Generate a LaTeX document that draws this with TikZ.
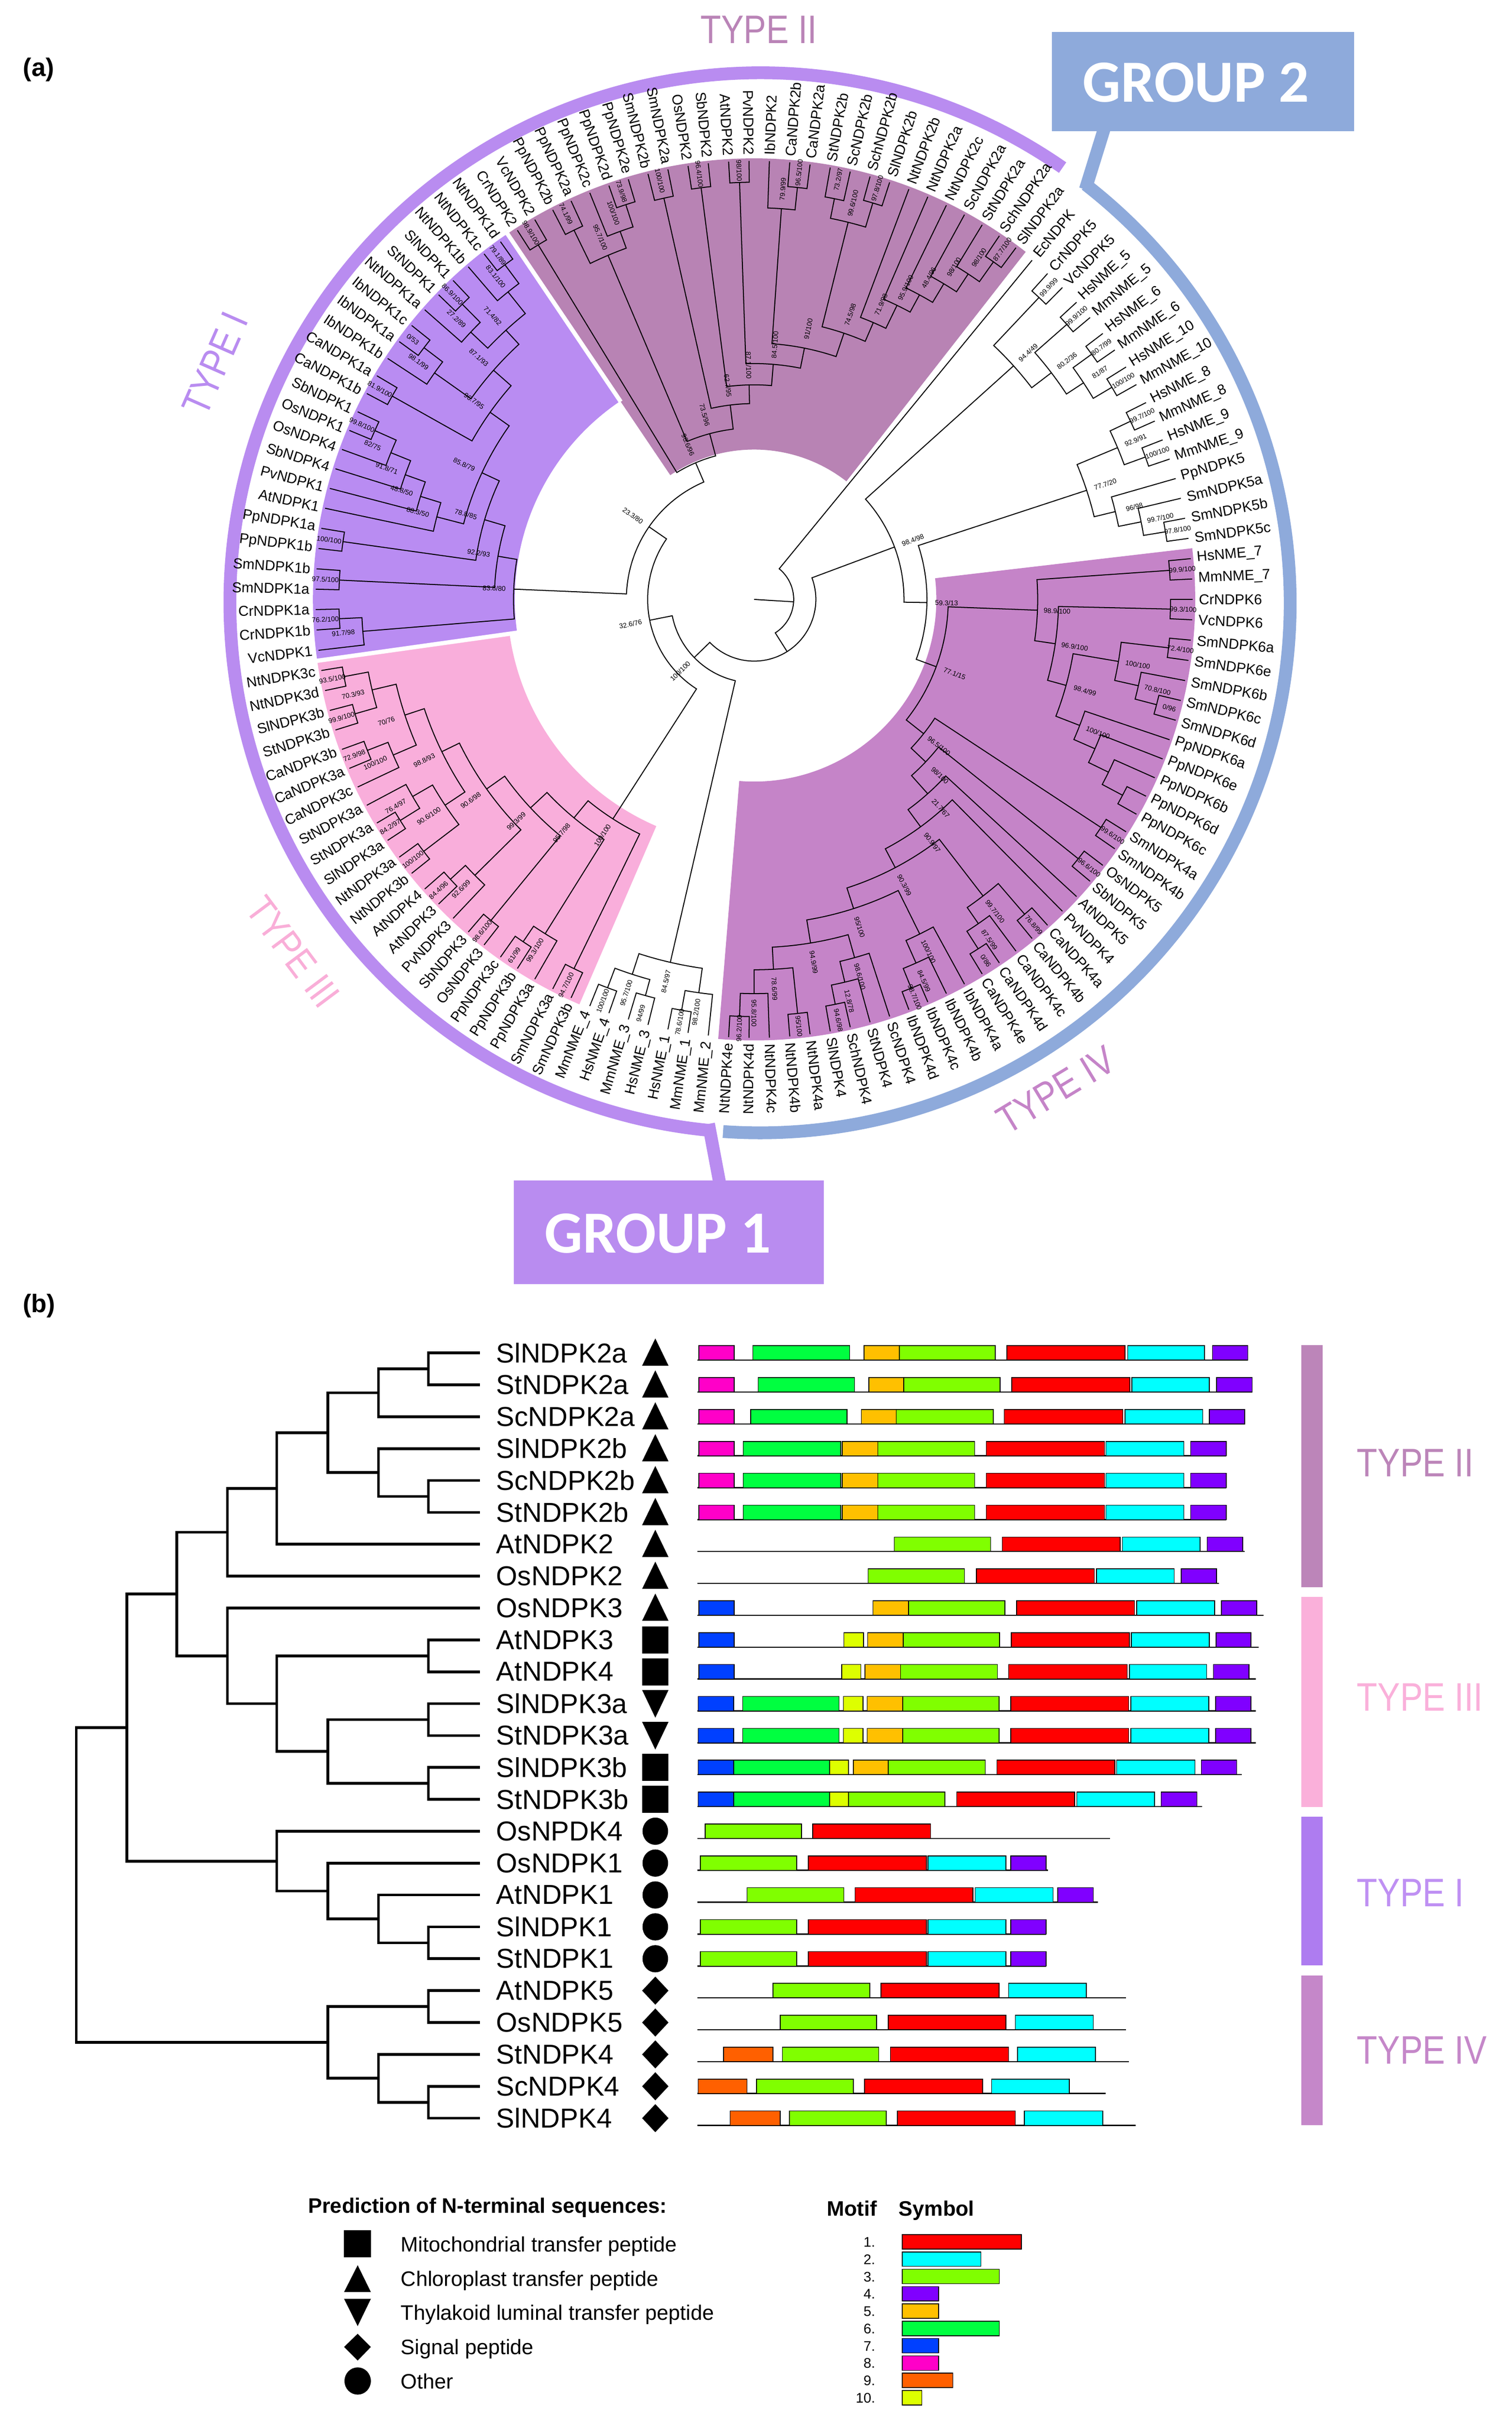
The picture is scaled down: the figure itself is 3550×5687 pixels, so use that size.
\documentclass[tikz,border=0pt]{standalone}
\usepackage{fontspec}
\setmainfont{Liberation Sans}
\newfontfamily\typefont[FakeStretch=0.85]{Liberation Sans}
\newfontfamily\groupfont{Carlito}
\definecolor{tone}{RGB}{185,140,242}
\definecolor{ttwo}{RGB}{184,131,180}
\definecolor{tthree}{RGB}{249,174,219}
\definecolor{tfour}{RGB}{197,132,200}
\definecolor{gone}{RGB}{185,140,240}
\definecolor{gtwo}{RGB}{142,170,219}
\definecolor{txtone}{RGB}{185,140,240}
\definecolor{txttwo}{RGB}{186,132,183}
\definecolor{txtthree}{RGB}{249,174,216}
\definecolor{txtfour}{RGB}{197,132,200}
\definecolor{bartwo}{RGB}{188,133,185}
\definecolor{barthree}{RGB}{250,176,218}
\definecolor{barone}{RGB}{174,124,240}
\definecolor{barfour}{RGB}{197,135,201}
\definecolor{btxtone}{RGB}{191,144,243}
\definecolor{m1}{RGB}{255,0,0}
\definecolor{m2}{RGB}{0,255,255}
\definecolor{m3}{RGB}{128,255,0}
\definecolor{m4}{RGB}{128,0,255}
\definecolor{m5}{RGB}{255,192,0}
\definecolor{m6}{RGB}{0,255,64}
\definecolor{m7}{RGB}{0,64,255}
\definecolor{m8}{RGB}{255,0,200}
\definecolor{m9}{RGB}{255,96,0}
\definecolor{m10}{RGB}{221,255,0}

\newcommand\tkleaf[2]{%
  \pgfmathsetmacro\tkM{-(#1)*8/3}%
  \expandafter\xdef\csname tkang@L#1\endcsname{\tkM}%
  \expandafter\xdef\csname tkrad@L#1\endcsname{#2}}
\newcommand\tknode[5]{%
  \edef\tkA{\csname tkang@#3\endcsname}%
  \edef\tkB{\csname tkang@#4\endcsname}%
  \edef\tkRA{\csname tkrad@#3\endcsname}%
  \edef\tkRB{\csname tkrad@#4\endcsname}%
  \pgfmathsetmacro\tkM{(\tkA+\tkB)/2}%
  \expandafter\xdef\csname tkang@#1\endcsname{\tkM}%
  \expandafter\xdef\csname tkrad@#1\endcsname{#2}%
  \draw[treeline] (\tkA:\tkRA) -- (\tkA:#2) arc[start angle=\tkA, end angle=\tkB, radius=#2] -- (\tkB:\tkRB);%
  \if\relax\detokenize{#5}\relax\else
    \pgfmathsetmacro\tkRot{cos(\tkM)>=0 ? \tkM : \tkM+180}%
    \pgfmathsetmacro\tkLR{min(#2+46,1008)}%
    \node[boot, rotate=\tkRot] (bs#1) at (\tkM:\tkLR) {#5};%
  \fi}
\newcommand\tklab[2]{%
  \pgfmathsetmacro\tkM{-(#1)*8/3}%
  \pgfmathtruncatemacro\tkS{cos(\tkM)>=0 ? 1 : 0}%
  \ifnum\tkS=1\relax
    \node[leaflab, anchor=west, rotate=\tkM] (lf#1) at (\tkM:1044) {#2};%
  \else
    \pgfmathsetmacro\tkRot{\tkM+180}%
    \node[leaflab, anchor=east, rotate=\tkRot] (lf#1) at (\tkM:1044) {#2};%
  \fi}
\newcommand\bleaf[2]{%
  \pgfmathsetmacro\tkY{3178+74.9*#2}%
  \expandafter\xdef\csname bx@#1\endcsname{1127}%
  \expandafter\xdef\csname by@#1\endcsname{\tkY}}
\newcommand\bnode[4]{%
  \edef\tkXA{\csname bx@#3\endcsname}\edef\tkYA{\csname by@#3\endcsname}%
  \edef\tkXB{\csname bx@#4\endcsname}\edef\tkYB{\csname by@#4\endcsname}%
  \pgfmathsetmacro\tkY{(\tkYA+\tkYB)/2}%
  \expandafter\xdef\csname bx@#1\endcsname{#2}%
  \expandafter\xdef\csname by@#1\endcsname{\tkY}%
  \draw[btree] (\tkXA,\tkYA) -- (#2,\tkYA) -- (#2,\tkYB) -- (\tkXB,\tkYB);}
\newcommand\mrow[3]{%
  \pgfmathsetmacro\tkY{3178+74.9*#1}%
  \draw[mbase] (30,\tkY+17) -- (#2,\tkY+17);%
  \foreach \cc/\mxa/\mxb in {#3} {\filldraw[fill=\cc, draw=black, line width=0.5pt] (\mxa,\tkY-17) rectangle (\mxb,\tkY+17);}}

\begin{document}
\begin{tikzpicture}[x=0.1mm, y=-0.1mm,
  treeline/.style={line width=0.23mm, black},
  boot/.style={font=\fontsize{4.6}{5}\selectfont, inner sep=0pt},
  leaflab/.style={font=\fontsize{9.6}{11}\selectfont, inner sep=0pt},
  blab/.style={font=\fontsize{18.3}{20}\selectfont, inner sep=0pt, anchor=west},
  btree/.style={line width=0.65mm, black, line join=miter},
  mbase/.style={line width=0.8pt, black},
  typelab/.style={font=\typefont\fontsize{26.6}{30}\selectfont, inner sep=0pt},
  grouplab/.style={font=\groupfont\bfseries\fontsize{40}{44}\selectfont, text=white, inner sep=0pt},
  panlab/.style={font=\bfseries\fontsize{17}{19}\selectfont, inner sep=0pt},
  leglab/.style={font=\fontsize{14}{16}\selectfont, inner sep=0pt, anchor=base west},
  leghead/.style={font=\bfseries\fontsize{14}{16}\selectfont, inner sep=0pt, anchor=base west},
  numlab/.style={font=\fontsize{9.3}{10}\selectfont, inner sep=0pt, anchor=base east}]
\useasboundingbox (0,0) rectangle (3550,5687);
\fill[white] (0,0) rectangle (3550,5687);

% ---------------- panel (a) ----------------
\node[panlab] (pa) at (91,164) {(a)};

\begin{scope}[shift={(1785,1416)}, yscale=-1]
  \draw[gone, line width=3mm] (55.2:1245) arc[start angle=55.2, end angle=264.4, radius=1245];
  \draw[gtwo, line width=3mm] (52.1:1245) arc[start angle=52.1, end angle=-94, radius=1245];
\end{scope}
\draw[gone, line width=3mm] (1664,2640) -- (1690,2778);
\draw[gtwo, line width=3mm] (2594,300) -- (2549,445);
\fill[gtwo] (2470,75) rectangle (3180,308);
\node[grouplab] (g2) at (2809,194) {GROUP 2};
\fill[gone] (1207,2773) rectangle (1935,3016);
\node[grouplab] (g1) at (1545,2897) {GROUP 1};

\node[typelab, text=txttwo] (t2a) at (1782,70) {TYPE II};
\node[typelab, text=txtone, rotate=66.3] (t1a) at (505,854) {TYPE I};
\node[typelab, text=txtthree, rotate=-53.2] (t3a) at (688,2236) {TYPE III};
\node[typelab, text=txtfour, rotate=31.2] (t4a) at (2480,2560) {TYPE IV};

\begin{scope}[shift={(1771,1408)}, yscale=-1]
  \fill[ttwo] (-236:352) arc[start angle=-236, end angle=-308, radius=352] -- (-308:1036) arc[start angle=-308, end angle=-236, radius=1036] -- cycle;
  \fill[tone] (-172:562) arc[start angle=-172, end angle=-236, radius=562] -- (-236:1036) arc[start angle=-236, end angle=-172, radius=1036] -- cycle;
  \fill[tthree] (-113.333:580) arc[start angle=-113.333, end angle=-172, radius=580] -- (-172:1036) arc[start angle=-172, end angle=-113.333, radius=1036] -- cycle;
  \fill[tfour] (6.667:428) arc[start angle=6.667, end angle=-94.667, radius=428] -- (-94.667:1036) arc[start angle=-94.667, end angle=6.667, radius=1036] -- cycle;
  \draw[white, line width=1mm] (-236:560) -- (-236:1040);
  \draw[white, line width=1mm] (-172:560) -- (-172:1040);

  \foreach \ii in {-19,...,115} {\tkleaf{\ii}{1030}}
  \foreach \pp/\nm in {-19/EcNDPK,-18/CrNDPK5,-17/VcNDPK5,-16/HsNME\_5,-15/MmNME\_5,-14/HsNME\_6,-13/MmNME\_6,-12/HsNME\_10,-11/MmNME\_10,-10/HsNME\_8,-9/MmNME\_8,-8/HsNME\_9,-7/MmNME\_9,-6/PpNDPK5,-5/SmNDPK5a,-4/SmNDPK5b,-3/SmNDPK5c,-2/HsNME\_7,-1/MmNME\_7,0/CrNDPK6,1/VcNDPK6,2/SmNDPK6a,3/SmNDPK6e,4/SmNDPK6b,5/SmNDPK6c,6/SmNDPK6d,7/PpNDPK6a,8/PpNDPK6e,9/PpNDPK6b,10/PpNDPK6d,11/PpNDPK6c,12/SmNDPK4a,13/SmNDPK4b,14/OsNDPK5,15/SbNDPK5,16/AtNDPK5,17/PvNDPK4,18/CaNDPK4a,19/CaNDPK4b,20/CaNDPK4c,21/CaNDPK4d,22/CaNDPK4e,23/IbNDPK4a,24/IbNDPK4b,25/IbNDPK4c,26/IbNDPK4d,27/ScNDPK4,28/StNDPK4,29/SchNDPK4,30/SlNDPK4,31/NtNDPK4a,32/NtNDPK4b,33/NtNDPK4c,34/NtNDPK4d,35/NtNDPK4e,36/MmNME\_2,37/MmNME\_1,38/HsNME\_1,39/HsNME\_3,40/MmNME\_3,41/HsNME\_4,42/MmNME\_4,43/SmNDPK3b,44/SmNDPK3a,45/PpNDPK3a,46/PpNDPK3b,47/PpNDPK3c,48/OsNDPK3,49/SbNDPK3,50/PvNDPK3,51/AtNDPK3,52/AtNDPK4,53/NtNDPK3b,54/NtNDPK3a,55/SlNDPK3a,56/StNDPK3a,57/StNDPK3a,58/CaNDPK3c,59/CaNDPK3a,60/CaNDPK3b,61/StNDPK3b,62/SlNDPK3b,63/NtNDPK3d,64/NtNDPK3c,65/VcNDPK1,66/CrNDPK1b,67/CrNDPK1a,68/SmNDPK1a,69/SmNDPK1b,70/PpNDPK1b,71/PpNDPK1a,72/AtNDPK1,73/PvNDPK1,74/SbNDPK4,75/OsNDPK4,76/OsNDPK1,77/SbNDPK1,78/CaNDPK1b,79/CaNDPK1a,80/IbNDPK1b,81/IbNDPK1a,82/IbNDPK1c,83/NtNDPK1a,84/StNDPK1,85/SlNDPK1,86/NtNDPK1b,87/NtNDPK1c,88/NtNDPK1d,89/CrNDPK2,90/VcNDPK2,91/PpNDPK2b,92/PpNDPK2a,93/PpNDPK2c,94/PpNDPK2d,95/PpNDPK2e,96/SmNDPK2b,97/SmNDPK2a,98/OsNDPK2,99/SbNDPK2,100/AtNDPK2,101/PvNDPK2,102/IbNDPK2,103/CaNDPK2b,104/CaNDPK2a,105/StNDPK2b,106/ScNDPK2b,107/SchNDPK2b,108/SlNDPK2b,109/NtNDPK2b,110/NtNDPK2a,111/NtNDPK2c,112/ScNDPK2a,113/StNDPK2a,114/SchNDPK2a,115/SlNDPK2a} {\tklab{\pp}{\nm}}

  % Group 2 NME 5/6/10
  \tknode{CrVcf}{975}{L-18}{L-17}{99.9/99}
  \tknode{NMEf}{978}{L-16}{L-15}{99.9/100}
  \tknode{NMEs}{980}{L-14}{L-13}{80.7/99}
  \tknode{NMEt}{977}{L-12}{L-11}{100/100}
  \tknode{neightyone}{926}{NMEs}{NMEt}{81/87}
  \tknode{neighty}{878}{NMEf}{neightyone}{80.2/36}
  \tknode{D}{820}{CrVcf}{neighty}{94.4/49}
  % NME 8/9, Pp5, Sm5
  \tknode{NMEe}{978}{L-10}{L-9}{99.7/100}
  \tknode{NMEn}{978}{L-8}{L-7}{100/100}
  \tknode{nninetytwo}{925}{NMEe}{NMEn}{92.9/91}
  \tknode{Smfbc}{979}{L-4}{L-3}{97.8/100}
  \tknode{nsmf}{927}{L-5}{Smfbc}{99.7/100}
  \tknode{nninetysix}{873}{L-6}{nsmf}{96/98}
  \tknode{F}{822}{nninetytwo}{nninetysix}{77.7/20}
  % Type IV upper
  \tknode{NMEsev}{978}{L-2}{L-1}{99.9/100}
  \tknode{CrVcs}{978}{L0}{L1}{99.3/100}
  \tknode{nsma}{980}{L2}{L3}{72.4/100}
  \tknode{nsmcd}{977}{L5}{L6}{0/96}
  \tknode{nsmb}{925}{L4}{nsmcd}{70.8/100}
  \tknode{Ssix}{868}{nsma}{nsmb}{100/100}
  \tknode{Ppdc}{980}{L10}{L11}{}
  \tknode{Ppb}{926}{L9}{Ppdc}{}
  \tknode{Ppe}{874}{L8}{Ppb}{}
  \tknode{Ppsix}{820}{L7}{Ppe}{100/100}
  \tknode{W}{760}{Ssix}{Ppsix}{98.4/99}
  \tknode{Wtwo}{715}{CrVcs}{W}{96.9/100}
  \tknode{Nnn}{666}{NMEsev}{Wtwo}{98.9/100}
  % Type IV lower
  \tknode{Smfour}{975}{L12}{L13}{99.6/100}
  \tknode{OsSbf}{975}{L14}{L15}{96.6/100}
  \tknode{Caab}{975}{L18}{L19}{76.8/99}
  \tknode{Cade}{975}{L21}{L22}{0/86}
  \tknode{Cac}{926}{L20}{Cade}{87.5/99}
  \tknode{Cafour}{880}{Caab}{Cac}{99.7/100}
  \tknode{Ibcd}{985}{L25}{L26}{98.7/100}
  \tknode{Ibb}{935}{L24}{Ibcd}{84.5/99}
  \tknode{Ibfour}{877}{L23}{Ibb}{100/100}
  \tknode{SchSl}{970}{L29}{L30}{94.6/98}
  \tknode{StSch}{924}{L28}{SchSl}{12.8/78}
  \tknode{Solfour}{874}{L27}{StSch}{98.6/100}
  \tknode{Ntde}{980}{L34}{L35}{96.2/100}
  \tknode{Ntc}{926}{L33}{Ntde}{95.8/100}
  \tknode{Ntab}{978}{L31}{L32}{95/100}
  \tknode{Ntfour}{870}{Ntab}{Ntc}{78.6/99}
  \tknode{Wfour}{818}{Solfour}{Ntfour}{94.9/99}
  \tknode{Vfour}{763}{Ibfour}{Wfour}{95/100}
  \tknode{Ufour}{712}{Cafour}{Vfour}{90.3/99}
  \tknode{Tfour}{662}{L17}{Ufour}{90.9/97}
  \tknode{Sfour}{612}{L16}{Tfour}{21.7/67}
  \tknode{Rfour}{555}{OsSbf}{Sfour}{98/100}
  \tknode{Qfour}{508}{Smfour}{Rfour}{96.5/100}
  \tknode{G}{456}{Nnn}{Qfour}{77.1/15}
  \tknode{E}{406}{F}{G}{59.3/13}
  \tknode{C}{352}{D}{E}{98.4/98}
  % Group 1 NME
  \tknode{NMEone}{980}{L37}{L38}{78.6/100}
  \tknode{nNMEa}{933}{L36}{NMEone}{98.2/100}
  \tknode{NMEthree}{965}{L39}{L40}{94/99}
  \tknode{NMEfour}{975}{L41}{L42}{100/100}
  \tknode{nNMEb}{926}{NMEthree}{NMEfour}{95.7/100}
  \tknode{NMEg}{875}{nNMEa}{nNMEb}{84.5/97}
  % Type III
  \tknode{Smthree}{965}{L43}{L44}{94.7/100}
  \tknode{Ppbc}{970}{L46}{L47}{61/99}
  \tknode{Ppthree}{926}{L45}{Ppbc}{99.3/100}
  \tknode{Monothree}{975}{L48}{L49}{98.6/100}
  \tknode{Atthree}{970}{L51}{L52}{84.4/96}
  \tknode{PvAt}{922}{L50}{Atthree}{92.6/99}
  \tknode{Ntthab}{976}{L53}{L54}{100/100}
  \tknode{neightyfour}{980}{L55}{L56}{84.2/97}
  \tknode{nseventysix}{926}{neightyfour}{L57}{76.4/97}
  \tknode{nninetyb}{872}{Ntthab}{nseventysix}{90.6/100}
  \tknode{Caabt}{975}{L59}{L60}{72.9/98}
  \tknode{Cathree}{923}{L58}{Caabt}{100/100}
  \tknode{StSlb}{975}{L61}{L62}{99.9/100}
  \tknode{Ntcd}{980}{L63}{L64}{93.5/100}
  \tknode{nseventythree}{922}{StSlb}{Ntcd}{70.3/93}
  \tknode{nseventy}{864}{Cathree}{nseventythree}{70/76}
  \tknode{nninetyeight}{816}{nninetyb}{nseventy}{98.8/93}
  \tknode{nninetysixb}{770}{PvAt}{nninetyeight}{90.6/98}
  \tknode{nninetynine}{718}{Monothree}{nninetysixb}{99.3/99}
  \tknode{nninetyfive}{665}{Ppthree}{nninetynine}{95.7/98}
  \tknode{Tthree}{613}{Smthree}{nninetyfive}{100/100}
  % Type I
  \tknode{Crone}{975}{L66}{L67}{76.2/100}
  \tknode{Chlone}{922}{L65}{Crone}{91.7/98}
  \tknode{Smone}{975}{L68}{L69}{97.5/100}
  \tknode{Ppone}{975}{L70}{L71}{100/100}
  \tknode{OsSbone}{975}{L76}{L77}{99.8/100}
  \tknode{neightytwo}{920}{L75}{OsSbone}{82/75}
  \tknode{nninetyone}{870}{L74}{neightytwo}{91.8/71}
  \tknode{nfortyeight}{820}{L73}{nninetyone}{48.8/50}
  \tknode{neightyeight}{770}{L72}{nfortyeight}{88.3/50}
  \tknode{Caone}{975}{L78}{L79}{81.9/100}
  \tknode{Ibac}{975}{L81}{L82}{0/53}
  \tknode{Ibone}{920}{L80}{Ibac}{98.1/99}
  \tknode{StSlone}{975}{L84}{L85}{86.9/100}
  \tknode{ntwentyseven}{915}{L83}{StSlone}{27.2/89}
  \tknode{Ntonecd}{980}{L87}{L88}{79.1/89}
  \tknode{neightythree}{925}{L86}{Ntonecd}{83.1/100}
  \tknode{nseventyone}{860}{ntwentyseven}{neightythree}{71.4/82}
  \tknode{neightyseven}{815}{Ibone}{nseventyone}{87.1/93}
  \tknode{nninetysixc}{760}{Caone}{neightyseven}{96.7/95}
  \tknode{neightyfive}{705}{neightyeight}{nninetysixc}{85.8/79}
  \tknode{nseventyeight}{660}{Ppone}{neightyfive}{78.8/85}
  \tknode{nninetytwob}{610}{Smone}{nseventyeight}{92.2/93}
  \tknode{Tone}{565}{Chlone}{nninetytwob}{83.8/80}
  % Type II
  \tknode{CrVctwo}{975}{L89}{L90}{98.9/100}
  \tknode{Ppba}{965}{L91}{L92}{74.1/99}
  \tknode{Ppde}{975}{L94}{L95}{73.9/98}
  \tknode{Ppc}{920}{L93}{Ppde}{100/100}
  \tknode{Pptwo}{878}{Ppba}{Ppc}{95.7/100}
  \tknode{Smtwo}{966}{L96}{L97}{100/100}
  \tknode{OsSbtwo}{975}{L98}{L99}{96.4/100}
  \tknode{AtPvtwo}{980}{L100}{L101}{98/100}
  \tknode{Catwo}{973}{L103}{L104}{96.5/100}
  \tknode{IbCatwo}{920}{L102}{Catwo}{79.9/99}
  \tknode{StScb}{960}{L105}{L106}{73.2/97}
  \tknode{SchSlb}{972}{L107}{L108}{97.8/100}
  \tknode{Solb}{913}{StScb}{SchSlb}{99.6/100}
  \tknode{neightyseventwo}{972}{L114}{L115}{87.7/100}
  \tknode{nninetyeightb}{915}{L113}{neightyseventwo}{98/100}
  \tknode{nninetyeighta}{865}{L112}{nninetyeightb}{98/100}
  \tknode{nfortyfour}{814}{L111}{nninetyeighta}{48.4/96}
  \tknode{nninetyfivet}{768}{L110}{nfortyfour}{95.9/100}
  \tknode{nseventyonet}{708}{L109}{nninetyfivet}{71.9/98}
  \tknode{nseventyfour}{660}{Solb}{nseventyonet}{74.5/98}
  \tknode{nninetyonet}{602}{IbCatwo}{nseventyfour}{91/100}
  \tknode{neightyfourt}{554}{AtPvtwo}{nninetyonet}{84.5/100}
  \tknode{neightyonet}{504}{OsSbtwo}{neightyfourt}{87.1/100}
  \tknode{nsixtytwo}{460}{Smtwo}{neightyonet}{62.7/95}
  \tknode{nseventythreet}{403}{Pptwo}{nsixtytwo}{73.5/96}
  \tknode{Ttwo}{349}{CrVctwo}{nseventythreet}{98.6/96}
  % backbone
  \tknode{J}{300}{Ttwo}{Tone}{23.3/80}
  \tknode{K}{250}{J}{Tthree}{32.6/76}
  \tknode{H}{196}{K}{NMEg}{100/100}
  \tknode{B}{145}{C}{H}{}
  \tknode{A}{93}{L-19}{B}{}
  \edef\tkA{\csname tkang@A\endcsname}
  \draw[treeline] (0,0) -- (\tkA:93);
\end{scope}

% ---------------- panel (b) ----------------
\node[panlab] (pb) at (92,3068) {(b)};
\foreach \ii in {0,...,24} {\bleaf{r\ii}{\ii}}
\bnode{aone}{1006}{r0}{r1}
\bnode{atwo}{889}{aone}{r2}
\bnode{afour}{1006}{r4}{r5}
\bnode{athree}{889}{r3}{afour}
\bnode{afive}{770}{atwo}{athree}
\bnode{asix}{650}{afive}{r6}
\bnode{aseven}{534}{asix}{r7}
\bnode{bone}{1006}{r9}{r10}
\bnode{btwo}{1006}{r11}{r12}
\bnode{bthree}{1006}{r13}{r14}
\bnode{bfour}{770}{btwo}{bthree}
\bnode{bfive}{650}{bone}{bfour}
\bnode{bsix}{534}{r8}{bfive}
\bnode{ab}{415}{aseven}{bsix}
\bnode{cone}{1006}{r18}{r19}
\bnode{ctwo}{889}{r17}{cone}
\bnode{cthree}{770}{r16}{ctwo}
\bnode{cfour}{650}{r15}{cthree}
\bnode{abc}{298}{ab}{cfour}
\bnode{done}{1006}{r20}{r21}
\bnode{dtwo}{1006}{r23}{r24}
\bnode{dthree}{889}{r22}{dtwo}
\bnode{dfour}{770}{done}{dthree}
\bnode{root}{179}{abc}{dfour}

\foreach \ii/\nm in {0/SlNDPK2a,1/StNDPK2a,2/ScNDPK2a,3/SlNDPK2b,4/ScNDPK2b,5/StNDPK2b,6/AtNDPK2,7/OsNDPK2,8/OsNDPK3,9/AtNDPK3,10/AtNDPK4,11/SlNDPK3a,12/StNDPK3a,13/SlNDPK3b,14/StNDPK3b,15/OsNPDK4,16/OsNDPK1,17/AtNDPK1,18/SlNDPK1,19/StNDPK1,20/AtNDPK5,21/OsNDPK5,22/StNDPK4,23/ScNDPK4,24/SlNDPK4}
  {\node[blab] (bl\ii) at (1165,{3178+74.9*\ii}) {\nm};}

% symbols
\foreach \ii in {0,...,8} {\pgfmathsetmacro\yy{3178+74.9*\ii}\fill (1508,\yy+30) -- (1570,\yy+30) -- (1539,\yy-34) -- cycle;}
\foreach \ii in {9,10,13,14} {\pgfmathsetmacro\yy{3178+74.9*\ii}\fill (1508,\yy-32) rectangle (1570,\yy+32);}
\foreach \ii in {11,12} {\pgfmathsetmacro\yy{3178+74.9*\ii}\fill (1508,\yy-32) -- (1570,\yy-32) -- (1539,\yy+33) -- cycle;}
\foreach \ii in {15,...,19} {\pgfmathsetmacro\yy{3178+74.9*\ii}\fill (1539,\yy) ellipse [x radius=30, y radius=32];}
\foreach \ii in {20,...,24} {\pgfmathsetmacro\yy{3178+74.9*\ii}\fill (1539,\yy-33) -- (1570,\yy) -- (1539,\yy+33) -- (1508,\yy) -- cycle;}

% motifs
\begin{scope}[shift={(1600,0)}, xscale=1.2436]
\mrow{0}{1070}{m8/33/100,m6/135/318,m5/345/412,m3/412/593,m1/615/838,m2/843/988,m4/1003/1070}
\mrow{1}{1078}{m8/33/100,m6/145/327,m5/354/420,m3/420/602,m1/624/847,m2/851/997,m4/1011/1078}
\mrow{2}{1064}{m8/33/100,m6/131/313,m5/340/406,m3/406/589,m1/610/834,m2/838/985,m4/997/1064}
\mrow{3}{1029}{m8/33/100,m6/117/301,m5/304/371,m3/371/554,m1/576/799,m2/802/949,m4/962/1029}
\mrow{4}{1029}{m8/33/100,m6/117/301,m5/304/371,m3/371/554,m1/576/799,m2/802/949,m4/962/1029}
\mrow{5}{1029}{m8/33/100,m6/117/301,m5/304/371,m3/371/554,m1/576/799,m2/802/949,m4/962/1029}
\mrow{6}{1064}{m3/402/584,m1/606/829,m2/833/980,m4/993/1060}
\mrow{7}{1015}{m3/353/535,m1/557/780,m2/784/931,m4/944/1011}
\mrow{8}{1100}{m7/33/100,m5/362/429,m3/429/611,m1/633/856,m2/860/1007,m4/1020/1087}
\mrow{9}{1090}{m7/33/100,m10/307/344,m5/352/419,m3/419/601,m1/623/846,m2/850/997,m4/1010/1076}
\mrow{10}{1085}{m7/33/100,m10/303/339,m5/347/414,m3/414/597,m1/618/842,m2/846/992,m4/1005/1072}
\mrow{11}{1085}{m7/32/99,m6/116/298,m10/306/343,m5/351/418,m3/418/600,m1/622/845,m2/849/996,m4/1009/1076}
\mrow{12}{1085}{m7/32/99,m6/116/298,m10/306/343,m5/351/418,m3/418/600,m1/622/845,m2/849/996,m4/1009/1076}
\mrow{13}{1058}{m7/32/99,m6/99/280,m10/280/316,m5/325/391,m3/391/574,m1/596/819,m2/822/970,m4/982/1049}
\mrow{14}{983}{m7/32/99,m6/99/280,m10/280/316,m3/316/498,m1/520/743,m2/747/894,m4/906/974}
\mrow{15}{810}{m3/45/227,m1/248/471}
\mrow{16}{693}{m3/36/218,m1/240/463,m2/466/613,m4/622/689}
\mrow{17}{787}{m3/124/307,m1/328/551,m2/555/702,m4/711/778}
\mrow{18}{689}{m3/36/218,m1/240/463,m2/466/613,m4/622/689}
\mrow{19}{689}{m3/36/218,m1/240/463,m2/466/613,m4/622/689}
\mrow{20}{840}{m3/173/356,m1/377/600,m2/618/765}
\mrow{21}{840}{m3/187/369,m1/391/613,m2/631/778}
\mrow{22}{845}{m9/80/173,m3/191/373,m1/395/618,m2/635/782}
\mrow{23}{801}{m9/32/124,m3/142/325,m1/346/569,m2/586/733}
\mrow{24}{858}{m9/92/187,m3/204/387,m1/408/631,m2/648/796}
\end{scope}

% type bars
\fill[bartwo] (3056,3160) rectangle (3106,3728);
\fill[barthree] (3056,3751) rectangle (3106,4245);
\fill[barone] (3056,4268) rectangle (3106,4617);
\fill[barfour] (3056,4640) rectangle (3106,4992);
\node[typelab, text=bartwo, anchor=west] (t2b) at (3186,3436) {TYPE II};
\node[typelab, text=barthree, anchor=west] (t3b) at (3186,3987) {TYPE III};
\node[typelab, text=btxtone, anchor=west] (t1b) at (3186,4446) {TYPE I};
\node[typelab, text=barfour, anchor=west] (t4b) at (3186,4816) {TYPE IV};

% legend
\node[leghead] (lh) at (723,5198) {Prediction of N-terminal sequences:};
\fill (808,5239) rectangle (871,5303);
\fill (808,5384) -- (871,5384) -- (840,5321) -- cycle;
\fill (808,5400) -- (871,5400) -- (840,5464) -- cycle;
\fill (840,5482) -- (871,5513) -- (840,5545) -- (808,5513) -- cycle;
\fill (840,5593) ellipse [x radius=31, y radius=32];
\node[leglab] (l1) at (941,5289) {Mitochondrial transfer peptide};
\node[leglab] (l2) at (941,5370) {Chloroplast transfer peptide};
\node[leglab] (l3) at (941,5450) {Thylakoid luminal transfer peptide};
\node[leglab] (l4) at (941,5531) {Signal peptide};
\node[leglab] (l5) at (941,5611) {Other};

\node[leghead] (mh) at (1941,5205) {Motif};
\node[leghead] (sh) at (2110,5205) {Symbol};
\foreach \ii/\cc/\ww in {1/m1/280,2/m2/185,3/m3/228,4/m4/85,5/m5/85,6/m6/228,7/m7/85,8/m8/85,9/m9/119,10/m10/46}
{
  \pgfmathsetmacro\yy{5249+40.7*(\ii-1)}
  \filldraw[fill=\cc, draw=black, line width=0.5pt] (2119,\yy) rectangle ({2119+\ww},\yy+34);
  \node[numlab] (mn\ii) at (2056,\yy+29) {\ii.};
}
\end{tikzpicture}
\end{document}
